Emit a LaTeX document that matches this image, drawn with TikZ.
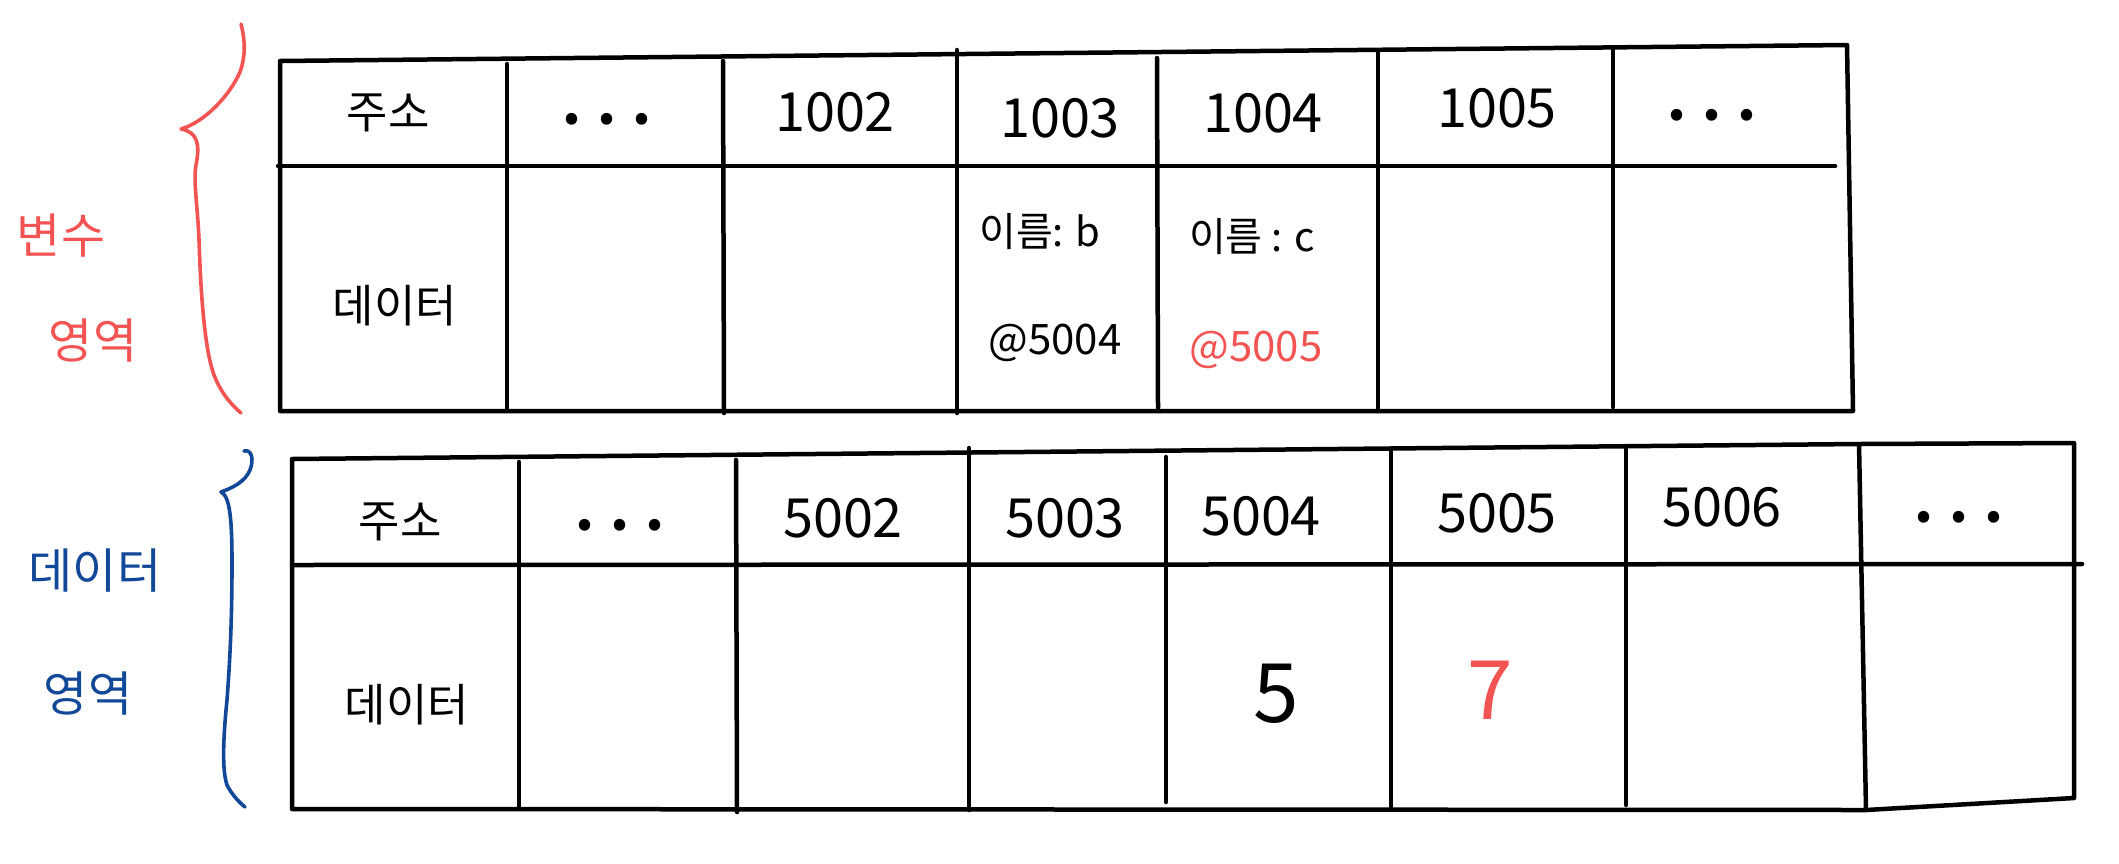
\documentclass[tikz,border=0pt]{standalone}
\usepackage{fontspec}
\setmainfont{Noto Sans CJK KR}
\definecolor{penred}{RGB}{242,84,84}
\definecolor{penblue}{RGB}{18,72,152}
\begin{document}
\begin{tikzpicture}[x=1pt,y=-1pt,
  tbl/.style={line width=4.5pt,line cap=round,line join=round,black},
  brace/.style={line width=3.6pt,line cap=round,line join=round},
  num/.style={font=\fontsize{54}{60}\selectfont,inner sep=0pt},
  ko/.style={font=\fontsize{45}{52}\selectfont,inner sep=0pt},
  kosm/.style={font=\fontsize{40}{46}\selectfont,inner sep=0pt},
  atx/.style={font=\fontsize{42}{48}\selectfont,inner sep=0pt},
  lbl/.style={font=\fontsize{48}{54}\selectfont,inner sep=0pt},
  big/.style={font=\fontsize{82}{90}\selectfont,inner sep=0pt},
  dt/.style={font=\fontsize{54}{60}\selectfont\bfseries,inner sep=0pt,anchor=base}]
\useasboundingbox[fill=white] (0,0) rectangle (2119,863);

% ---------- top table (variable area) ----------
\draw[tbl] (280,61) -- (1847,45) -- (1853,411) -- (280,411) -- cycle;
\draw[tbl] (278,166) -- (1835,166);
\draw[tbl] (507,64) -- (507,408);
\draw[tbl] (723,61) -- (724,413);
\draw[tbl] (957,50) -- (957,413);
\draw[tbl] (1157,58) -- (1158,408);
\draw[tbl] (1378,52) -- (1378,411);
\draw[tbl] (1613,50) -- (1613,407);

\node[ko] (tA) at (388,113) {주소};
\node[dt] (tB) at (607,124) {. . .};
\node[num] (tC) at (835,112) {1002};
\node[num] (tD) at (1060,118) {1003};
\node[num] (tE) at (1263,113) {1004};
\node[num] (tF) at (1497,108) {1005};
\node[dt] (tG) at (1712,120) {. . .};

\node[ko] (tH) at (395,306) {데이터};
\node[kosm] (tI) at (1040,232) {이름: b};
\node[kosm] (tJ) at (1252,237) {이름 : c};
\node[atx] (tK) at (1055,343) {@5004};
\node[atx,text=penred] (tL) at (1256,350) {@5005};

% ---------- bottom table (data area) ----------
\draw[tbl] (292,459) -- (1859,444) -- (2074,443) -- (2074,798) -- (1866,810) -- (292,809) -- cycle;
\draw[tbl] (1859,444) -- (1866,810);
\draw[tbl] (292,565) -- (2082,564);
\draw[tbl] (519,462) -- (519,808);
\draw[tbl] (736,460) -- (737,812);
\draw[tbl] (969,448) -- (969,810);
\draw[tbl] (1166,457) -- (1166,802);
\draw[tbl] (1391,450) -- (1391,809);
\draw[tbl] (1626,448) -- (1626,805);

\node[ko] (bA) at (400,522) {주소};
\node[dt] (bB) at (620,530) {. . .};
\node[num] (bC) at (843,518) {5002};
\node[num] (bD) at (1065,518) {5003};
\node[num] (bE) at (1261,516) {5004};
\node[num] (bF) at (1497,513) {5005};
\node[num] (bG) at (1722,507) {5006};
\node[dt] (bH) at (1959,522) {. . .};

\node[ko] (bI) at (407,705) {데이터};
\node[big] (bJ) at (1276,694) {5};
\node[big,text=penred] (bK) at (1490,690) {7};

% ---------- left labels and braces ----------
\node[lbl,text=penred] (lA) at (61,236) {변수};
\node[lbl,text=penred] (lB) at (93,341) {영역};
\node[lbl,text=penblue] (lC) at (95,571) {데이터};
\node[lbl,text=penblue] (lD) at (88,694) {영역};

\draw[brace,penred] (241,24) .. controls (245,40) and (246,55) .. (240,72)
  .. controls (230,95) and (205,122) .. (181,129)
  .. controls (198,132) and (200,145) .. (196,165)
  .. controls (193,180) and (198,210) .. (199,240)
  .. controls (201,300) and (205,350) .. (214,375)
  .. controls (222,395) and (232,405) .. (241,413);

\draw[brace,penblue] (244,451) .. controls (252,449) and (254,460) .. (250,470)
  .. controls (245,482) and (232,488) .. (221,492)
  .. controls (230,496) and (232,520) .. (232,563)
  .. controls (232,620) and (230,660) .. (227,700)
  .. controls (223,740) and (222,770) .. (227,785)
  .. controls (232,795) and (240,803) .. (245,807);
\end{tikzpicture}
\end{document}
